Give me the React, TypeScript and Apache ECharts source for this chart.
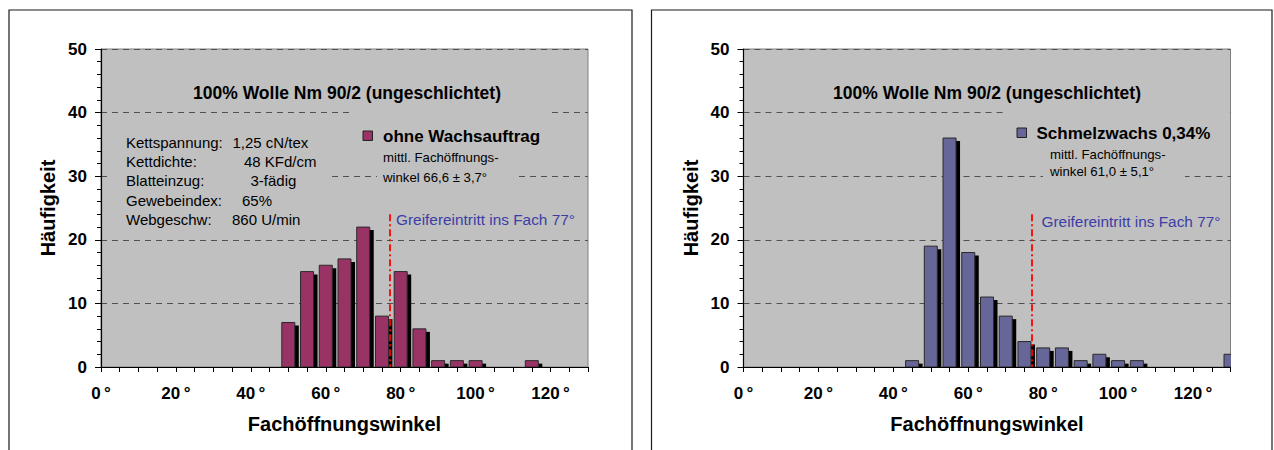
import React, { useEffect, useRef } from "react";
import * as echarts from "echarts";

// ---- data ----
const anglesA = [50, 55, 60, 65, 70, 75, 80, 85, 90, 95, 100, 115];
const countsA = [7, 15, 16, 17, 22, 8, 15, 6, 1, 1, 1, 1];
const anglesB = [45, 50, 55, 60, 65, 70, 75, 80, 85, 90, 95, 100, 105, 130];
const countsB = [1, 19, 36, 18, 11, 8, 4, 3, 3, 1, 2, 1, 1, 2];
const xTickLabels = [0, 20, 40, 60, 80, 100, 120];
const yTickLabels = [0, 10, 20, 30, 40, 50];
const chartTitle = "100% Wolle Nm 90/2 (ungeschlichtet)";
const seriesNames = ["ohne Wachsauftrag", "Schmelzwachs 0,34%"];
const meanTexts = [
  ["mittl. Fachöffnungs-", "winkel 66,6 ± 3,7°"],
  ["mittl. Fachöffnungs-", "winkel 61,0 ± 5,1°"],
];
const paramLabels = ["Kettspannung:", "Kettdichte:", "Blatteinzug:", "Gewebeindex:", "Webgeschw:"];
const paramValues = ["1,25 cN/tex", "48 KFd/cm", "3-fädig", "65%", "860 U/min"];
const greiferAngle = 77;
const greiferText = "Greifereintritt ins Fach 77°";
const xAxisTitle = "Fachöffnungswinkel";
const yAxisTitle = "Häufigkeit";
const colors = ["#993366", "#666699"];

const FONT = "'Liberation Sans', Arial, Helvetica, sans-serif";

function txt(text: string, x: number, y: number, size: number, opts: any = {}) {
  const align = opts.align || "left";
  return {
    type: "text",
    z: 20,
    silent: true,
    style: {
      text,
      x,
      y,
      fontSize: size,
      fontFamily: FONT,
      fontWeight: opts.bold ? "bold" : "normal",
      fill: opts.color || "#000",
      align,
      textAlign: align,
      verticalAlign: "middle",
      textVerticalAlign: "middle",
    },
  };
}

function grayRect(x: number, y: number, w: number, h: number) {
  return {
    type: "rect",
    z: 15,
    silent: true,
    shape: { x, y, width: w, height: h },
    style: { fill: "#c0c0c0", stroke: null },
  };
}

const gridLefts = [101, 743.5];
const PLOT_W = 487;

const option: any = {
  animation: false,
  textStyle: { fontFamily: FONT },
  grid: gridLefts.map((l) => ({
    left: l,
    top: 49,
    width: PLOT_W,
    height: 318,
    show: true,
    backgroundColor: "#c0c0c0",
    borderColor: "#808080",
    borderWidth: 1,
  })),
  xAxis: [0, 1].map((i) => ({
    type: "value",
    gridIndex: i,
    min: 0,
    max: 130,
    interval: 5,
    name: xAxisTitle,
    nameLocation: "middle",
    nameGap: 47,
    nameTextStyle: { fontSize: 20, fontWeight: "bold", color: "#000", fontFamily: FONT },
    axisLine: { show: true, onZero: false, lineStyle: { color: "#000", width: 1.2 } },
    axisTick: { show: true, inside: false, length: 5, lineStyle: { color: "#000", width: 1 } },
    splitLine: { show: false },
    axisLabel: {
      margin: 18,
      fontSize: 17,
      fontWeight: "bold",
      color: "#000",
      fontFamily: FONT,
      formatter: (v: number) => (xTickLabels.indexOf(v) >= 0 ? v + "\u2009°" : ""),
    },
  })),
  yAxis: [0, 1].map((i) => ({
    type: "value",
    gridIndex: i,
    min: 0,
    max: 50,
    interval: 10,
    name: yAxisTitle,
    nameLocation: "middle",
    nameRotate: 90,
    nameGap: 43,
    nameTextStyle: { fontSize: 20, fontWeight: "bold", color: "#000", fontFamily: FONT },
    axisLine: { show: true, lineStyle: { color: "#000", width: 1.2 } },
    axisTick: { show: true, inside: false, length: 6, lineStyle: { color: "#000", width: 1 } },
    minorTick: { show: true, splitNumber: 5, length: 4, lineStyle: { color: "#000", width: 1 } },
    splitLine: { show: true, lineStyle: { color: "#505050", width: 1, type: [6, 5] } },
    axisLabel: {
      margin: 14,
      fontSize: 17,
      fontWeight: "bold",
      color: "#000",
      fontFamily: FONT,
      formatter: (v: number) => (yTickLabels.indexOf(v) >= 0 ? String(v) : ""),
    },
  })),
  series: [
    [anglesA, countsA],
    [anglesB, countsB],
  ].map(([xs, ys], i) => ({
    type: "custom",
    name: seriesNames[i],
    xAxisIndex: i,
    yAxisIndex: i,
    clip: true,
    itemStyle: { color: colors[i] },
    data: xs.map((x, k) => [x, ys[k]]),
    encode: { x: 0, y: 1 },
    renderItem: (params: any, api: any) => {
      const top = api.coord([api.value(0), api.value(1)]);
      const base = api.coord([api.value(0), 0]);
      const w = 13;
      const h = base[1] - top[1];
      return {
        type: "group",
        children: [
          {
            type: "rect",
            shape: { x: top[0] - w / 2 + 4, y: top[1] + 3, width: w, height: Math.max(h - 3, 0) },
            style: { fill: "#000" },
          },
          {
            type: "rect",
            shape: { x: top[0] - w / 2, y: top[1], width: w, height: h },
            style: { fill: api.visual("color"), stroke: "#2a2a2a", lineWidth: 1 },
          },
        ],
      };
    },
    markLine: {
      silent: true,
      symbol: "none",
      z: 10,
      label: { show: false },
      lineStyle: { color: "#ff0000", width: 1.8, type: [7, 3, 2, 3] },
      data: [[{ coord: [greiferAngle, 24] }, { coord: [greiferAngle, 0] }]],
    },
  })),
  graphic: [
    // outer frames
    {
      type: "polyline",
      z: 30,
      silent: true,
      shape: { points: [[9, 460], [9, 10], [632, 10], [632, 460]] },
      style: { stroke: "#1a1a1a", lineWidth: 1.2, fill: null },
    },
    {
      type: "polyline",
      z: 30,
      silent: true,
      shape: { points: [[651.5, 460], [651.5, 10], [1272, 10], [1272, 460]] },
      style: { stroke: "#1a1a1a", lineWidth: 1.2, fill: null },
    },
    // left chart annotations
    txt(chartTitle, 347, 93, 17.5, { bold: true, align: "center" }),
    grayRect(112, 130, 218, 100),
    ...paramLabels.map((t, k) => txt(t, 126, 142.5 + k * 19.2, 15)),
    txt(paramValues[0], 232.5, 142.5, 15),
    txt(paramValues[1], 244, 142.5 + 19.2, 15),
    txt(paramValues[2], 250.5, 142.5 + 2 * 19.2, 15),
    txt(paramValues[3], 242, 142.5 + 3 * 19.2, 15),
    txt(paramValues[4], 232, 142.5 + 4 * 19.2, 15),
    grayRect(353, 111, 194, 37),
    grayRect(377, 147, 140, 40),
    {
      type: "rect",
      z: 20,
      silent: true,
      shape: { x: 363, y: 131, width: 9.5, height: 9.5 },
      style: { fill: colors[0], stroke: "#222", lineWidth: 1 },
    },
    txt(seriesNames[0], 383, 136, 17, { bold: true }),
    txt(meanTexts[0][0], 383, 157, 13.2),
    txt(meanTexts[0][1], 383, 177, 13.2),
    txt(greiferText, 396, 219, 15.4, { color: "#3d3da6" }),
    // right chart annotations
    txt(chartTitle, 987, 93, 17.5, { bold: true, align: "center" }),
    grayRect(1005, 111, 225, 34),
    grayRect(1043, 145, 142, 36),
    {
      type: "rect",
      z: 20,
      silent: true,
      shape: { x: 1017, y: 128, width: 9.5, height: 9.5 },
      style: { fill: colors[1], stroke: "#222", lineWidth: 1 },
    },
    txt(seriesNames[1], 1036.5, 133, 17, { bold: true }),
    txt(meanTexts[1][0], 1050, 154.5, 13.2),
    txt(meanTexts[1][1], 1050, 171, 13.2),
    txt(greiferText, 1041.5, 221, 15.4, { color: "#3d3da6" }),
  ],
};

export default function App() {
  const ref = useRef<HTMLDivElement>(null);
  useEffect(() => {
    if (!ref.current) return;
    const chart = echarts.init(ref.current, null, { renderer: "svg" });
    chart.setOption(option);
    return () => chart.dispose();
  }, []);
  return (
    <div
      ref={ref}
      style={{ position: "absolute", left: 0, top: 0, width: 1274, height: 450, background: "#fff" }}
    />
  );
}
